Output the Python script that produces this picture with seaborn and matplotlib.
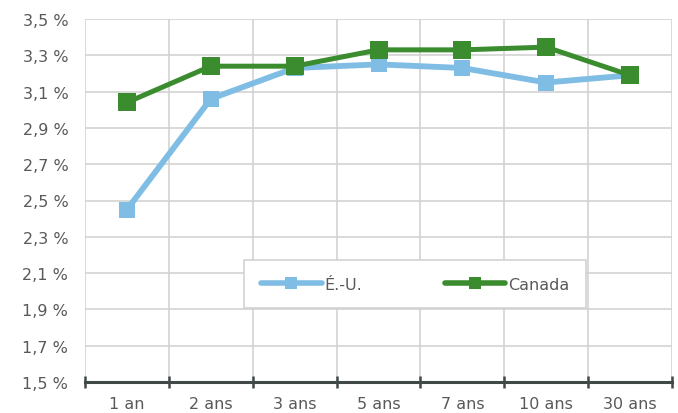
import matplotlib
matplotlib.use("Agg")
import matplotlib.pyplot as plt
from matplotlib.ticker import FixedLocator, FuncFormatter
import seaborn as sns
import pandas as pd

# Taux par échéance
echeances = ["1 an", "2 ans", "3 ans", "5 ans", "7 ans", "10 ans", "30 ans"]
taux_eu = [2.45, 3.06, 3.23, 3.25, 3.23, 3.15, 3.19]
taux_canada = [3.04, 3.24, 3.24, 3.33, 3.33, 3.345, 3.19]
series = ["É.-U.", "Canada"]
couleurs = ["#7fbde4", "#3a8c2e"]

df = pd.DataFrame({
    "Échéance": echeances * 2,
    "Taux": taux_eu + taux_canada,
    "Série": [series[0]] * len(echeances) + [series[1]] * len(echeances),
})

sns.set_theme(style="white")
plt.rcParams["font.family"] = ["DejaVu Sans"]

fig = plt.figure(figsize=(6.78, 4.14), dpi=100)
ax = fig.add_axes([85 / 678, 1 - 383 / 414, (672 - 85) / 678, (383 - 20) / 414])

sns.lineplot(
    data=df, x="Échéance", y="Taux", hue="Série", hue_order=series,
    palette=couleurs, marker="s", markersize=11, linewidth=3.3,
    markeredgewidth=0, sort=False, ax=ax,
)
# Trait un peu plus épais pour la série É.-U., marqueurs plus gros pour le Canada
styles = {couleurs[0]: (4.2, 11.5), couleurs[1]: (3.6, 12.5)}
for ln in ax.lines:
    c = matplotlib.colors.to_hex(ln.get_color())
    if c in styles:
        ln.set_linewidth(styles[c][0])
        ln.set_markersize(styles[c][1])

ax.set_xlim(-0.5, len(echeances) - 0.5)
ax.set_ylim(1.5, 3.5)
ax.set_xlabel("")
ax.set_ylabel("")

gris = "#595959"
fs = 11.5
ax.yaxis.set_major_locator(FixedLocator([1.5 + 0.2 * i for i in range(11)]))
ax.yaxis.set_major_formatter(FuncFormatter(lambda v, p: f"{v:.1f} %".replace(".", ",")))
ax.grid(axis="y", color="#d0d0d0", linewidth=1.1)
ax.tick_params(axis="y", left=False, length=0, labelsize=fs, labelcolor=gris, pad=12)

ax.xaxis.set_minor_locator(FixedLocator([i - 0.5 for i in range(len(echeances) + 1)]))
ax.grid(axis="x", which="minor", color="#d0d0d0", linewidth=1.1)
ax.tick_params(axis="x", which="major", bottom=False, length=0, labelsize=fs,
               labelcolor=gris, pad=10)
ax.tick_params(axis="x", which="minor", bottom=True, direction="inout", length=9,
               width=1.8, color="#404848")

for s in ["left", "top", "right"]:
    ax.spines[s].set_visible(False)
ax.spines["bottom"].set_color("#404848")
ax.spines["bottom"].set_linewidth(2.2)
ax.set_axisbelow(True)

handles, labels = ax.get_legend_handles_labels()
leg = ax.legend(
    handles, labels, loc="center", bbox_to_anchor=((415 - 85) / 587, (383 - 285) / 363),
    ncol=2, frameon=True, fancybox=False, edgecolor="#d0d0d0", framealpha=1,
    fontsize=fs, handlelength=3.8, handletextpad=0.15, columnspacing=5.2,
    borderpad=1.05, borderaxespad=0, labelcolor=gris,
)
leg.get_frame().set_linewidth(1.1)
for h in leg.legend_handles:
    h.set_markersize(8)
    h.set_linewidth(4.0)

fig.savefig("out.png", dpi=100)
